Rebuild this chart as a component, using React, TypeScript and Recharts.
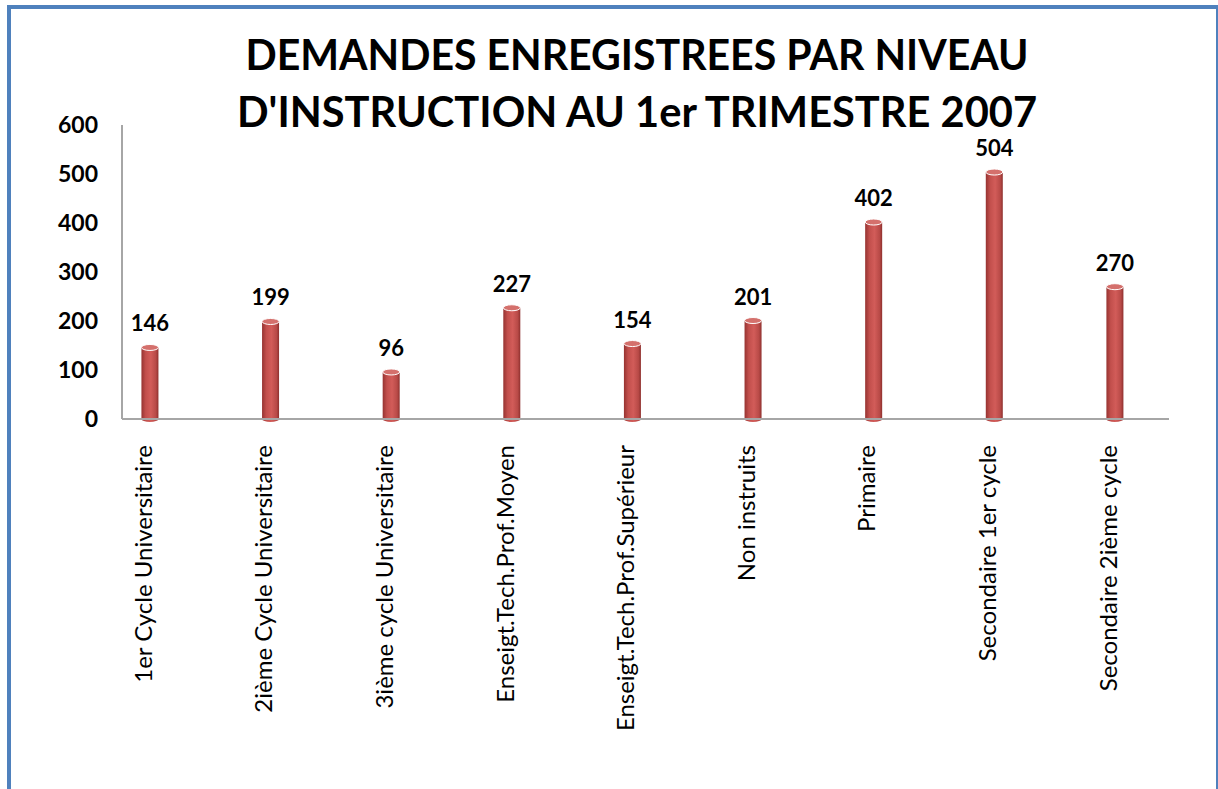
import React from 'react';
import { BarChart, Bar, XAxis, YAxis, LabelList } from 'recharts';

const categories = [
  '1er Cycle Universitaire',
  '2ième Cycle Universitaire',
  '3ième cycle Universitaire',
  'Enseigt.Tech.Prof.Moyen',
  'Enseigt.Tech.Prof.Supérieur',
  'Non instruits',
  'Primaire',
  'Secondaire 1er cycle',
  'Secondaire 2ième cycle',
];
const demandes = [146, 199, 96, 227, 154, 201, 402, 504, 270];
const yTicks = [0, 100, 200, 300, 400, 500, 600];
const titleLines = ['DEMANDES ENREGISTREES PAR NIVEAU', "D'INSTRUCTION AU 1er TRIMESTRE 2007"];

const data = categories.map((name, i) => ({ idx: i, name, value: demandes[i] }));

const FONT = 'Lato, "Open Sans", sans-serif';

// thin cylinder like the excel 3d chart
function Cylinder(props: any) {
  const { x, y, width, height } = props;
  if (height == null || height <= 0) return null;
  const cx = x + width / 2;
  const rx = width / 2;
  return (
    <g>
      <rect x={x} y={y} width={width} height={height} fill="url(#cylBody)" />
      <ellipse cx={cx} cy={y + height} rx={rx} ry={3} fill="url(#cylBody)" />
      <ellipse cx={cx} cy={y} rx={rx} ry={3} fill="#D4706C" stroke="#ffffff" strokeWidth={1} />
    </g>
  );
}

function ValueLabel(props: any) {
  const { x, y, width, value } = props;
  return (
    <text
      x={x + width / 2}
      y={y - 16}
      textAnchor="middle"
      fontFamily={FONT}
      fontWeight="bold"
      fontSize={22}
      fill="#000"
    >
      {value}
    </text>
  );
}

function CategoryTick(props: any) {
  const { x, y, payload } = props;
  return (
    <text
      x={x}
      y={y}
      transform={`rotate(-90, ${x}, ${y})`}
      textAnchor="end"
      dy={2}
      fontFamily={FONT}
      fontSize={24}
      fill="#000"
    >
      {categories[payload.value]}
    </text>
  );
}

export default function App() {
  return (
    <div
      style={{
        position: 'fixed',
        left: 0,
        top: 0,
        width: 1218,
        height: 789,
        overflow: 'hidden',
        background: '#fff',
      }}
    >
      <div
        style={{
          position: 'absolute',
          left: 7,
          top: 5,
          width: 1211,
          height: 900,
          boxSizing: 'border-box',
          borderLeft: '4px solid #4F81BD',
          borderTop: '4px solid #4F81BD',
          borderRight: '2px solid #4F81BD',
        }}
      />
      <svg
        width={1218}
        height={140}
        style={{ position: 'absolute', left: 0, top: 0 }}
      >
        {titleLines.map((line, i) => (
          <text
            key={i}
            x={637}
            y={i === 0 ? 70 : 127}
            textAnchor="middle"
            fontFamily={FONT}
            fontWeight="bold"
            fontSize={42}
            textLength={i === 0 ? 783 : 800}
            lengthAdjust="spacingAndGlyphs"
            fill="#000"
          >
            {line}
          </text>
        ))}
      </svg>
      <div style={{ position: 'absolute', left: 0, top: 0 }}>
        <BarChart
          width={1218}
          height={789}
          data={data}
          margin={{ top: 125, right: 49, left: 22, bottom: 70 }}
        >
          <defs>
            <linearGradient id="cylBody" x1="0" y1="0" x2="1" y2="0">
              <stop offset="0%" stopColor="#963331" />
              <stop offset="25%" stopColor="#C24F4C" />
              <stop offset="55%" stopColor="#D25C59" />
              <stop offset="85%" stopColor="#B84A47" />
              <stop offset="100%" stopColor="#8E302E" />
            </linearGradient>
          </defs>
          <XAxis
            dataKey="idx"
            type="number"
            domain={[-0.23, 8.45]}
            ticks={categories.map((_, i) => i)}
            interval={0}
            height={300}
            tickLine={false}
            tickMargin={20}
            axisLine={{ stroke: '#A6A6A6', strokeWidth: 2 }}
            tick={<CategoryTick />}
          />
          <YAxis
            domain={[0, 600]}
            ticks={yTicks}
            width={100}
            tickLine={false}
            tickMargin={18}
            axisLine={{ stroke: '#A6A6A6', strokeWidth: 2 }}
            tick={{ fontFamily: FONT, fontWeight: 'bold', fontSize: 23, fill: '#000' }}
          />
          <Bar
            dataKey="value"
            barSize={17}
            shape={<Cylinder />}
            isAnimationActive={false}
          >
            <LabelList dataKey="value" content={<ValueLabel />} />
          </Bar>
        </BarChart>
      </div>
    </div>
  );
}
